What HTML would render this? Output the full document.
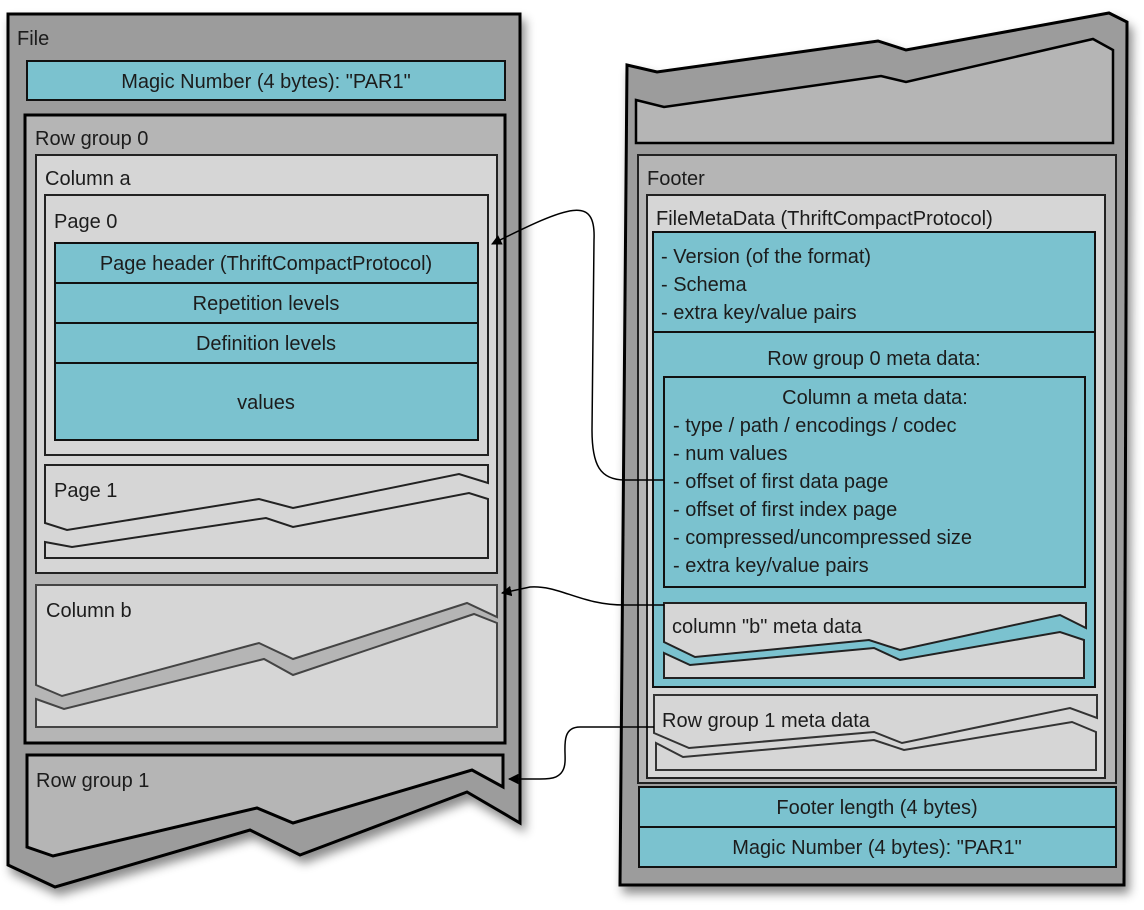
<!DOCTYPE html>
<html><head><meta charset="utf-8"><style>
html,body{margin:0;padding:0;background:#fff;}
svg{display:block;}
text{font-family:"Liberation Sans",Arial,sans-serif;font-size:20px;fill:#1c1c1c;}
</style></head><body>
<svg width="1144" height="910" viewBox="0 0 1144 910" xmlns="http://www.w3.org/2000/svg">
<defs>
<filter id="sh" x="-10%" y="-10%" width="130%" height="130%"><feDropShadow dx="4" dy="7" stdDeviation="5" flood-color="#000" flood-opacity="0.45"/></filter>
<marker id="ah" viewBox="0 0 10 10" refX="9" refY="5" markerWidth="7" markerHeight="7" orient="auto-start-reverse"><path d="M0,0 L10,5 L0,10 z" fill="#000"/></marker>
</defs>

<!-- LEFT FILE -->
<polygon points="8,14 520,14 520,823 467,792 300,855 250,830 55,887 8,865" fill="#9c9c9c" stroke="#000" stroke-width="3" filter="url(#sh)"/>
<text x="17" y="45">File</text>
<rect x="27" y="61" width="478" height="39" fill="#7bc2cf" stroke="#111" stroke-width="2"/>
<text x="266" y="88" text-anchor="middle">Magic Number (4 bytes): "PAR1"</text>

<rect x="25" y="115" width="480" height="628" fill="#b5b5b5" stroke="#000" stroke-width="3"/>
<text x="35" y="145">Row group 0</text>
<rect x="36" y="155" width="461" height="418" fill="#d6d6d6" stroke="#222" stroke-width="2"/>
<text x="45" y="185">Column a</text>
<rect x="45" y="195" width="443" height="260" fill="#d6d6d6" stroke="#222" stroke-width="2"/>
<text x="54" y="228">Page 0</text>
<rect x="55" y="243" width="423" height="40" fill="#7bc2cf" stroke="#111" stroke-width="2"/>
<rect x="55" y="283" width="423" height="40" fill="#7bc2cf" stroke="#111" stroke-width="2"/>
<rect x="55" y="323" width="423" height="40" fill="#7bc2cf" stroke="#111" stroke-width="2"/>
<rect x="55" y="363" width="423" height="77" fill="#7bc2cf" stroke="#111" stroke-width="2"/>
<text x="266" y="270" text-anchor="middle">Page header (ThriftCompactProtocol)</text>
<text x="266" y="310" text-anchor="middle">Repetition levels</text>
<text x="266" y="350" text-anchor="middle">Definition levels</text>
<text x="266" y="409" text-anchor="middle">values</text>

<!-- Page 1 -->
<polygon points="45,465 488,465 488,483 459,474 293,508 259,499 67,530 45,523" fill="#d6d6d6" stroke="#222" stroke-width="2"/>
<polygon points="45,542 72,547 266,518 293,527 469,493 488,499 488,558 45,558" fill="#d6d6d6" stroke="#222" stroke-width="2"/>
<text x="54" y="497">Page 1</text>

<!-- Column b -->
<rect x="36" y="585" width="461" height="142" fill="#b5b5b5"/>
<polygon points="36,585 497,585 497,617 467,603 293,659 259,643 62,696 36,685" fill="#d6d6d6" stroke="#444" stroke-width="2"/>
<polygon points="36,699 64,709 264,659 293,675 474,614 497,623 497,727 36,727" fill="#d6d6d6" stroke="#444" stroke-width="2"/>
<text x="46" y="617">Column b</text>

<!-- Row group 1 -->
<polygon points="27,755 503,755 503,787 472,770 293,823 257,808 53,856 27,847" fill="#b5b5b5" stroke="#000" stroke-width="3"/>
<text x="36" y="787">Row group 1</text>

<!-- RIGHT FILE -->
<polygon points="627,65 657,72 878,41 906,50 1109,13 1127,22 1124,885 620,885" fill="#9c9c9c" stroke="#000" stroke-width="3" filter="url(#sh)"/>
<polygon points="636,100 664,107 881,76 906,82 1093,39 1113,50 1113,143 636,143" fill="#b5b5b5" stroke="#000" stroke-width="2.5"/>
<rect x="638" y="155" width="478" height="628" fill="#b5b5b5" stroke="#222" stroke-width="2"/>
<text x="647" y="185">Footer</text>
<rect x="647" y="195" width="458" height="583" fill="#d6d6d6" stroke="#222" stroke-width="2"/>
<text x="656" y="225">FileMetaData (ThriftCompactProtocol)</text>
<rect x="653" y="232" width="442" height="100" fill="#7bc2cf" stroke="#111" stroke-width="2"/>
<text x="661" y="263">- Version (of the format)</text>
<text x="661" y="291">- Schema</text>
<text x="661" y="319">- extra key/value pairs</text>
<rect x="653" y="332" width="442" height="355" fill="#7bc2cf" stroke="#111" stroke-width="2"/>
<text x="874" y="365" text-anchor="middle">Row group 0 meta data:</text>
<rect x="664" y="377" width="421" height="210" fill="#7bc2cf" stroke="#111" stroke-width="2"/>
<text x="875" y="404" text-anchor="middle">Column a meta data:</text>
<text x="673" y="432">- type / path / encodings /  codec</text>
<text x="673" y="460">- num values</text>
<text x="673" y="488">- offset of first data page</text>
<text x="673" y="516">- offset of first index page</text>
<text x="673" y="544">- compressed/uncompressed size</text>
<text x="673" y="572">- extra key/value pairs</text>

<polygon points="664,603 1086,603 1086,628 1060,615 900,650 869,640 695,657 664,642" fill="#d6d6d6" stroke="#222" stroke-width="2"/>
<polygon points="664,653 690,665 874,648 900,660 1060,632 1084,640 1084,678 664,678" fill="#d6d6d6" stroke="#222" stroke-width="2"/>
<text x="672" y="633">column "b" meta data</text>

<polygon points="654,695 1097,695 1097,718 1070,708 902,743 874,732 689,748 654,733" fill="#d6d6d6" stroke="#333" stroke-width="2"/>
<polygon points="656,743 683,757 874,740 904,750 1072,722 1096,732 1096,770 656,770" fill="#d6d6d6" stroke="#333" stroke-width="2"/>
<text x="662" y="727">Row group 1 meta data</text>

<rect x="639" y="787" width="477" height="40" fill="#7bc2cf" stroke="#111" stroke-width="2"/>
<rect x="639" y="827" width="477" height="40" fill="#7bc2cf" stroke="#111" stroke-width="2"/>
<text x="877" y="814" text-anchor="middle">Footer length (4 bytes)</text>
<text x="877" y="854" text-anchor="middle">Magic Number (4 bytes): "PAR1"</text>

<!-- connectors -->
<path d="M664,480 L625,480 C600,480 592,465 592,430 L594,240 C596,195 570,205 492,244" fill="none" stroke="#000" stroke-width="1.5" marker-end="url(#ah)"/>
<path d="M664,605 L625,605 C580,605 560,585 530,587 L502,593" fill="none" stroke="#000" stroke-width="1.5" marker-end="url(#ah)"/>
<path d="M654,727 L580,727 C560,727 566,750 565,762 C564,779 550,779 540,779 L509,779" fill="none" stroke="#000" stroke-width="1.5" marker-end="url(#ah)"/>
</svg>
</body></html>
